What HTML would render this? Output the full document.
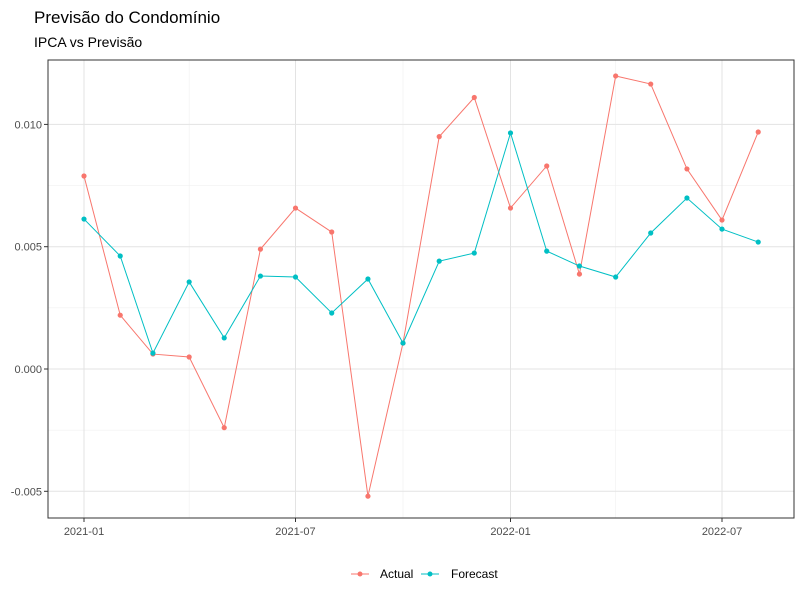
<!DOCTYPE html>
<html><head><meta charset="utf-8"><style>
body{margin:0;background:#fff;font-family:"Liberation Sans",Arial,sans-serif}
</style></head><body>
<svg id="chart" width="800" height="600" xmlns="http://www.w3.org/2000/svg">
<text x="34" y="23" font-size="17" fill="#000">Previsão do Condomínio</text>
<text x="34" y="47" font-size="14" fill="#000">IPCA vs Previsão</text>
<g id="grid"></g><g id="axes"></g><g id="series"></g>
<rect x="48" y="60" width="746" height="458" fill="none" stroke="#333" stroke-width="1"/>
<g>
<g><line x1="351" y1="574" x2="369" y2="574" stroke="#F8766D"/><circle cx="360" cy="574" r="2.5" fill="#F8766D"/><text x="380" y="578" font-size="12" fill="#000">Actual</text></g>
<g><line x1="421" y1="574" x2="439" y2="574" stroke="#00BFC4"/><circle cx="430" cy="574" r="2.5" fill="#00BFC4"/><text x="451" y="578" font-size="12" fill="#000">Forecast</text></g>
</g>
</svg>
<script>
const months = ["2021-01","2021-02","2021-03","2021-04","2021-05","2021-06","2021-07","2021-08","2021-09","2021-10","2021-11","2021-12","2022-01","2022-02","2022-03","2022-04","2022-05","2022-06","2022-07","2022-08"];
const actual = [0.00789,0.0022,0.00061,0.00049,-0.0024,0.0049,0.00658,0.0056,-0.0052,0.00106,0.0095,0.0111,0.00658,0.0083,0.00388,0.01198,0.01165,0.00818,0.00609,0.00969];
const forecast = [0.00613,0.00462,0.00065,0.00356,0.00127,0.0038,0.00376,0.00229,0.00368,0.00106,0.00441,0.00474,0.00965,0.00482,0.00421,0.00376,0.00556,0.00699,0.00572,0.00519];
const yTicks = [-0.005,0,0.005,0.010];
const yTickLabels = ["-0.005","0.000","0.005","0.010"];
const yMinor = [-0.0025,0.0025,0.0075];
const xTicks = ["2021-01","2021-07","2022-01","2022-07"];
const xMinor = ["2021-04","2021-10","2022-04"];
const NS="http://www.w3.org/2000/svg";
const d0=Date.UTC(2021,0,1);
function days(m){const [y,mo]=m.split("-").map(Number);return (Date.UTC(y,mo-1,1)-d0)/86400000;}
function x(m){return 84+days(m)*(638/546);}
function y(v){return 369-v*(122.3/0.005);}
function mk(tag,attrs,parent){const e=document.createElementNS(NS,tag);for(const k in attrs)e.setAttribute(k,attrs[k]);parent.appendChild(e);return e;}
const grid=document.getElementById("grid"),axes=document.getElementById("axes"),series=document.getElementById("series");
yMinor.forEach(v=>{const l=mk("line",{x1:48,x2:794,y1:y(v),y2:y(v),stroke:"#f0f0f0","stroke-width":0.6},grid);

});
xMinor.forEach(m=>{const l=mk("line",{x1:x(m),x2:x(m),y1:60,y2:518,stroke:"#f0f0f0","stroke-width":0.6},grid);

});
yTicks.forEach((v,i)=>{const l=mk("line",{x1:48,x2:794,y1:y(v),y2:y(v),stroke:"#e3e3e3","stroke-width":1},grid);


const t=mk("line",{x1:44,x2:48,y1:y(v),y2:y(v),stroke:"#333"},axes);


const tx=mk("text",{x:42,y:y(v)+4,"text-anchor":"end","font-size":11,fill:"#4d4d4d"},axes);tx.textContent=yTickLabels[i];

});
xTicks.forEach(m=>{const l=mk("line",{x1:x(m),x2:x(m),y1:60,y2:518,stroke:"#e3e3e3","stroke-width":1},grid);


const t=mk("line",{x1:x(m),x2:x(m),y1:518,y2:522,stroke:"#333"},axes);


const tx=mk("text",{x:x(m),y:535,"text-anchor":"middle","font-size":11,fill:"#4d4d4d"},axes);tx.textContent=m;

});
function draw(vals,color,name){
const p=mk("polyline",{points:vals.map((v,i)=>x(months[i])+","+y(v)).join(" "),fill:"none",stroke:color,"stroke-width":1},series);


vals.forEach((v,i)=>{const c=mk("circle",{cx:x(months[i]),cy:y(v),r:2.6,fill:color},series);

});}
draw(actual,"#F8766D","actual");
draw(forecast,"#00BFC4","forecast");
</script>
</body></html>
